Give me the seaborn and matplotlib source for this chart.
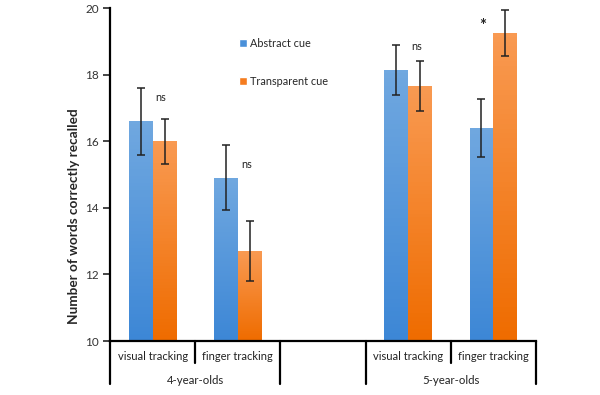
import numpy as np
import pandas as pd
import matplotlib
matplotlib.use("Agg")
import matplotlib.pyplot as plt
import seaborn as sns
from matplotlib.colors import LinearSegmentedColormap
from matplotlib.patches import Patch

# values
slots = ['4v', '4f', 'gap', '5v', '5f']
slot_labels = ['visual tracking', 'finger tracking', '', 'visual tracking', 'finger tracking']
present = ['4v', '4f', '5v', '5f']
abstract_mean = [16.6, 14.9, 18.15, 16.4]
abstract_err = [1.0, 0.98, 0.75, 0.86]
transparent_mean = [16.0, 12.7, 17.65, 19.25]
transparent_err = [0.68, 0.9, 0.75, 0.68]
sig_marks = ['ns', 'ns', 'ns', '*']
groups = ['4-year-olds', '5-year-olds']
cues = ['Abstract cue', 'Transparent cue']

df = pd.DataFrame({
    'slot': present * 2,
    'cue': [cues[0]] * 4 + [cues[1]] * 4,
    'mean': abstract_mean + transparent_mean,
    'err': abstract_err + transparent_err,
})

sns.set_style('white')
plt.rcParams['font.family'] = ['Lato', 'DejaVu Sans']

fig = plt.figure(figsize=(6, 3.95), dpi=100)
ax = fig.add_axes([0.1833, 0.1367, 0.71, 0.843])

blue = '#4a90d9'
orange = '#f57c1f'
sns.barplot(data=df, x='slot', y='mean', hue='cue', order=slots,
            hue_order=cues, palette=[blue, orange], width=0.56,
            errorbar=None, ax=ax, legend=False)

# gradient fill + error bars
grads = [LinearSegmentedColormap.from_list('b', ['#3d87d6', '#70a8e0']),
         LinearSegmentedColormap.from_list('o', ['#ef6c00', '#f99a52'])]
bar_conts = list(ax.containers)
for i, cont in enumerate(bar_conts):
    sub = df[df['cue'] == cues[i]].reset_index(drop=True)
    bars = sorted(cont.patches, key=lambda p: p.get_x())
    for p, (_, row) in zip(bars, sub.iterrows()):
        x0, w, h = p.get_x(), p.get_width(), p.get_height()
        p.set_facecolor('none')
        p.set_edgecolor('none')
        im = ax.imshow(np.linspace(0, 1, 64).reshape(-1, 1), cmap=grads[i],
                       extent=[x0, x0 + w, 10, row['mean']], origin='lower',
                       aspect='auto', zorder=1)
        im.set_clip_path(p)
        ax.errorbar(x0 + w / 2, row['mean'], yerr=row['err'], fmt='none',
                    ecolor='#222222', elinewidth=1.1, capsize=3, capthick=1.1,
                    zorder=3)

# significance marks
xs_sig = [0.1, 1.1, 3.1, 3.87]
ys_sig = [17.3, 15.3, 18.85, 19.45]
for xs, ys, m in zip(xs_sig, ys_sig, sig_marks):
    ax.text(xs, ys, m, fontsize=12 if m == '*' else 7.8,
            fontweight='bold' if m == '*' else 'normal',
            ha='center', va='center', color='#222222')

ax.set_xlim(-0.5, 4.5)
ax.set_ylim(10, 20)
ax.set_yticks([10, 12, 14, 16, 18, 20])
ax.tick_params(axis='y', direction='out', length=5, width=1.2, labelsize=8.5,
               left=True, pad=3, labelcolor='#333333')
ax.set_xticks([])
ax.set_xlabel('')
ax.set_ylabel('Number of words correctly recalled', fontsize=9.8,
              fontweight='bold')
ax.yaxis.set_label_coords(-0.071, 0.375)
sns.despine(ax=ax)
for s in ['left', 'bottom']:
    ax.spines[s].set_color('black')
    ax.spines[s].set_linewidth(1.6)

# category axis below plot
tr = ax.get_xaxis_transform()
for i, lab in enumerate(slot_labels):
    if lab:
        ax.text(i, -0.03, lab, transform=tr, ha='center', va='top',
                fontsize=8, color='#222222')
for b in [0.5, 3.5]:
    ax.plot([b, b], [0, -0.067], transform=tr, color='black', lw=1.6,
            clip_on=False)
for b in [-0.5, 1.5, 2.5, 4.5]:
    ax.plot([b, b], [0, -0.13], transform=tr, color='black', lw=1.6,
            clip_on=False)
ax.text(0.5, -0.102, groups[0], transform=tr, ha='center', va='top',
        fontsize=8.2, color='#222222')
ax.text(3.5, -0.102, groups[1], transform=tr, ha='center', va='top',
        fontsize=8.2, color='#222222')

handles = [Patch(facecolor=blue, label=cues[0]),
           Patch(facecolor=orange, label=cues[1])]
ax.legend(handles=handles, loc='upper left', bbox_to_anchor=(0.28, 0.94),
          frameon=False, fontsize=7.8, handlelength=0.75, handleheight=0.75,
          handletextpad=0.3, labelspacing=2.5)

fig.savefig('out.png', dpi=100)
